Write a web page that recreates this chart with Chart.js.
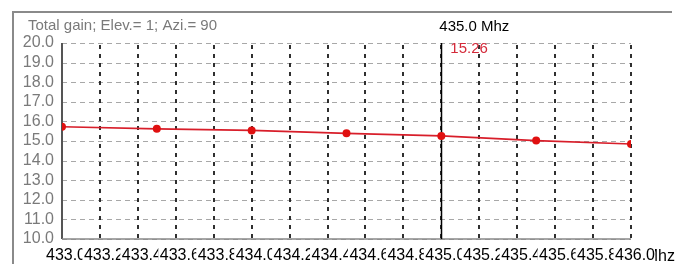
<!DOCTYPE html>
<html><head><meta charset="utf-8">
<script src="https://cdn.jsdelivr.net/npm/chart.js@4/dist/chart.umd.min.js"></script>
<style>html,body{margin:0;padding:0;background:#fff}#wrap{width:676px;height:265px}</style>
</head><body><div id="wrap"><canvas id="c" width="676" height="265"></canvas></div>
<script>
const freqs = [433.0, 433.5, 434.0, 434.5, 435.0, 435.5, 436.0];
const gains = [15.73, 15.62, 15.54, 15.39, 15.26, 15.02, 14.85];
const xTickLabels = ['433.0','433.2','433.4','433.6','433.8','434.0','434.2','434.4','434.6','434.8','435.0','435.2','435.4','435.6','435.8','436.0'];
const yTickLabels = ['10.0','11.0','12.0','13.0','14.0','15.0','16.0','17.0','18.0','19.0','20.0'];
const titleText = 'Total gain; Elev.= 1; Azi.= 90';
const cursorFreq = 435.0;
const cursorLabel = '435.0 Mhz';
const cursorValue = '15.26';
const xUnit = 'Mhz';

const FONT = '"Liberation Sans", Arial, sans-serif';

const decor = {
  id: 'decor',
  beforeDraw(chart) {
    const ctx = chart.ctx;
    ctx.save();
    ctx.fillStyle = '#ffffff';
    ctx.fillRect(0, 0, 676, 265);
    // frame
    ctx.strokeStyle = '#8a8a8a';
    ctx.lineWidth = 2;
    ctx.beginPath();
    ctx.moveTo(13, 264); ctx.lineTo(13, 12); ctx.lineTo(672, 12);
    ctx.stroke();
    // title
    ctx.fillStyle = '#7a7a7a';
    ctx.font = '15px ' + FONT;
    ctx.textBaseline = 'alphabetic';
    ctx.fillText(titleText, 28, 30);
    // unit after last x label (covered partly by its backdrop)
    ctx.fillStyle = '#000';
    ctx.font = '16px ' + FONT;
    ctx.textAlign = 'right';
    ctx.fillText(xUnit, 675, 261);
    ctx.restore();
  },
  beforeDatasetsDraw(chart) {
    const ctx = chart.ctx;
    const xs = chart.scales.x, ys = chart.scales.y;
    const a = chart.chartArea;
    ctx.save();
    // horizontal grid
    ctx.strokeStyle = '#a8a8a8';
    ctx.lineWidth = 1;
    ctx.setLineDash([5, 4]);
    ys.ticks.forEach(t => {
      const y = Math.round(ys.getPixelForValue(t.value)) + 0.5;
      ctx.beginPath(); ctx.moveTo(a.left, y); ctx.lineTo(a.right, y); ctx.stroke();
    });
    // vertical grid
    ctx.strokeStyle = '#1a1a1a';
    ctx.lineWidth = 1.8;
    ctx.setLineDash([4, 5]);
    xs.ticks.forEach((t, i) => {
      if (i === 0) return;
      const x = Math.round(xs.getPixelForValue(t.value));
      ctx.beginPath(); ctx.moveTo(x, a.top + 2); ctx.lineTo(x, a.bottom); ctx.stroke();
    });
    ctx.setLineDash([]);
    // axes
    ctx.strokeStyle = '#555';
    ctx.lineWidth = 2;
    ctx.beginPath(); ctx.moveTo(a.left, a.top); ctx.lineTo(a.left, a.bottom); ctx.stroke();
    ctx.strokeStyle = '#888';
    ctx.lineWidth = 1.5;
    ctx.beginPath(); ctx.moveTo(a.left, a.bottom); ctx.lineTo(a.right, a.bottom); ctx.stroke();
    // cursor
    const cx = Math.round(xs.getPixelForValue(cursorFreq)) + 0.5;
    ctx.strokeStyle = '#000';
    ctx.lineWidth = 1.5;
    ctx.beginPath(); ctx.moveTo(cx, a.top); ctx.lineTo(cx, a.bottom); ctx.stroke();
    ctx.restore();
  },
  afterDraw(chart) {
    const ctx = chart.ctx;
    const xs = chart.scales.x;
    const cx = xs.getPixelForValue(cursorFreq);
    ctx.save();
    ctx.font = '15px ' + FONT;
    ctx.fillStyle = '#000';
    ctx.fillText(cursorLabel, cx - 2, 31);
    ctx.fillStyle = '#d42a3a';
    ctx.fillText(cursorValue, cx + 9, 53);
    ctx.restore();
  }
};

new Chart(document.getElementById('c'), {
  type: 'line',
  data: {
    datasets: [{
      data: freqs.map((f, i) => ({x: f, y: gains[i]})),
      borderColor: '#d81e2a',
      backgroundColor: '#e01010',
      borderWidth: 1.6,
      pointRadius: 4,
      pointBorderWidth: 0,
      pointBackgroundColor: '#e01010',
      tension: 0,
      fill: false
    }]
  },
  options: {
    responsive: false,
    animation: false,
    devicePixelRatio: 1,
    layout: {padding: {left: 12, top: 43, right: 45, bottom: 0}},
    plugins: {legend: {display: false}, tooltip: {enabled: false}},
    scales: {
      x: {
        type: 'linear', min: 433, max: 436,
        afterFit(s) { s.height = 26; },
        grid: {display: false, drawTicks: false},
        border: {display: false},
        ticks: {
          stepSize: 0.2, autoSkip: false, maxRotation: 0, minRotation: 0,
          padding: 7, labelOffset: 4,
          color: '#000', font: {family: FONT, size: 16},
          showLabelBackdrop: true, backdropColor: '#ffffff',
          backdropPadding: {left: 1.5, right: 0, top: 0, bottom: 0},
          callback: (v, i) => xTickLabels[i]
        }
      },
      y: {
        min: 10, max: 20,
        afterFit(s) { s.width = 50; },
        grid: {display: false, drawTicks: false},
        border: {display: false},
        ticks: {
          stepSize: 1, padding: 8, autoSkip: false,
          color: '#7a7a7a', font: {family: FONT, size: 16},
          callback: (v, i) => yTickLabels[i]
        }
      }
    }
  },
  plugins: [decor]
});
</script></body></html>
